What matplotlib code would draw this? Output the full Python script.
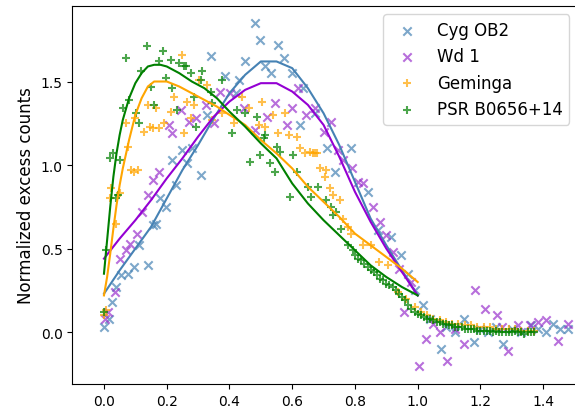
import matplotlib
matplotlib.use("Agg")
import matplotlib.pyplot as plt

# binned excess counts per source
cyg_x = [0.000, 0.016, 0.027, 0.039, 0.055, 0.076, 0.095, 0.113, 0.139, 0.155,
         0.166, 0.180, 0.197, 0.216, 0.229, 0.248, 0.266, 0.280, 0.308, 0.329,
         0.341, 0.387, 0.422, 0.429, 0.450, 0.480, 0.496, 0.512, 0.533, 0.556,
         0.574, 0.598, 0.625, 0.635, 0.672, 0.712, 0.737, 0.788, 0.841, 0.872,
         0.915, 0.946, 0.970, 0.990, 1.018, 1.040, 1.073, 1.090, 1.120, 1.147,
         1.178, 1.200, 1.225, 1.250, 1.273, 1.300, 1.330, 1.360, 1.385, 1.410,
         1.430, 1.455, 1.480]
cyg_y = [0.03, 0.08, 0.18, 0.27, 0.34, 0.35, 0.39, 0.52, 0.40, 0.64,
         0.65, 0.80, 0.75, 1.03, 0.88, 1.09, 1.01, 1.10, 0.94, 1.30,
         1.65, 1.53, 1.43, 1.51, 1.62, 1.85, 1.75, 1.59, 1.55, 1.72,
         1.64, 1.55, 1.24, 1.46, 1.31, 1.10, 0.96, 1.10, 0.84, 0.61,
         0.57, 0.46, 0.35, 0.25, 0.16, 0.08, -0.10, 0.03, 0.00, 0.08,
         -0.06, 0.02, 0.00, 0.03, -0.07, 0.02, 0.00, 0.04, 0.02, 0.00,
         0.05, 0.02, 0.02]

wd1_x = [0.002, 0.013, 0.034, 0.050, 0.069, 0.083, 0.105, 0.121, 0.139, 0.155,
         0.176, 0.208, 0.218, 0.245, 0.271, 0.292, 0.324, 0.350, 0.371, 0.403,
         0.445, 0.482, 0.519, 0.546, 0.582, 0.598, 0.619, 0.645, 0.672, 0.700,
         0.725, 0.746, 0.762, 0.790, 0.809, 0.825, 0.857, 0.880, 0.899, 0.920,
         0.940, 0.957, 0.980, 1.004, 1.025, 1.050, 1.070, 1.094, 1.120, 1.147,
         1.184, 1.215, 1.252, 1.270, 1.289, 1.320, 1.358, 1.384, 1.410, 1.447,
         1.479]
wd1_y = [0.08, 0.12, 0.24, 0.44, 0.49, 0.53, 0.59, 0.72, 0.82, 0.91,
         0.96, 1.24, 1.19, 1.33, 1.26, 1.28, 1.36, 1.25, 1.44, 1.43,
         1.34, 1.21, 1.29, 1.37, 1.24, 1.34, 1.46, 1.30, 1.34, 1.20,
         1.26, 1.09, 1.03, 0.98, 0.90, 0.89, 0.75, 0.66, 0.58, 0.48,
         0.38, 0.12, 0.30, -0.20, -0.04, 0.05, 0.00, -0.17, 0.02, -0.07,
         0.25, 0.14, 0.10, 0.03, -0.11, 0.04, 0.04, 0.06, 0.07, -0.05,
         0.05]

gem_x = [0.000, 0.008, 0.018, 0.023, 0.039, 0.050, 0.071, 0.076, 0.087, 0.097,
         0.100, 0.108, 0.129, 0.139, 0.147, 0.155, 0.166, 0.176, 0.192, 0.213,
         0.224, 0.250, 0.255, 0.266, 0.276, 0.287, 0.303, 0.329, 0.345, 0.377,
         0.414, 0.440, 0.461, 0.493, 0.503, 0.514, 0.540, 0.556, 0.577, 0.590,
         0.614, 0.625, 0.640, 0.656, 0.665, 0.672, 0.680, 0.688, 0.704, 0.709,
         0.720, 0.730, 0.751, 0.762, 0.778, 0.788, 0.825, 0.851, 0.878, 0.904,
         0.936, 0.962, 0.990, 1.010, 1.030, 1.050, 1.070, 1.090, 1.110, 1.130,
         1.150, 1.170, 1.190, 1.210, 1.230, 1.250, 1.270, 1.290, 1.310, 1.330,
         1.350, 1.370]
gem_y = [0.10, 0.13, 0.80, 0.86, 0.65, 0.83, 1.25, 1.11, 0.97, 0.96,
         1.28, 0.97, 1.20, 1.36, 1.23, 1.22, 1.34, 1.22, 1.25, 1.32,
         1.41, 1.66, 1.19, 1.38, 1.28, 1.36, 1.51, 1.48, 1.27, 1.31,
         1.25, 1.41, 1.34, 1.24, 1.38, 1.23, 1.30, 1.19, 1.31, 1.18,
         1.17, 1.10, 1.07, 1.08, 1.07, 1.07, 1.07, 0.98, 0.93, 0.97,
         0.86, 0.82, 0.79, 0.68, 0.63, 0.59, 0.52, 0.52, 0.42, 0.40,
         0.24, 0.20, 0.15, 0.12, 0.10, 0.08, 0.07, 0.06, 0.05, 0.05,
         0.04, 0.04, 0.03, 0.03, 0.03, 0.02, 0.02, 0.02, 0.02, 0.01,
         0.01, 0.01]

psr_x = [0.000, 0.008, 0.018, 0.028, 0.039, 0.046, 0.050, 0.062, 0.071, 0.081,
         0.103, 0.113, 0.118, 0.136, 0.150, 0.160, 0.176, 0.189, 0.197, 0.213,
         0.218, 0.234, 0.240, 0.255, 0.260, 0.277, 0.287, 0.292, 0.308, 0.313,
         0.340, 0.345, 0.377, 0.408, 0.424, 0.450, 0.466, 0.487, 0.498, 0.509,
         0.514, 0.530, 0.546, 0.551, 0.561, 0.593, 0.603, 0.614, 0.651, 0.661,
         0.683, 0.709, 0.725, 0.730, 0.741, 0.756, 0.778, 0.793,
         0.80, 0.81, 0.82, 0.83, 0.84, 0.85, 0.86, 0.87, 0.88, 0.89,
         0.90, 0.91, 0.92, 0.93, 0.94, 0.95, 0.96, 0.97, 0.98, 0.99,
         1.00, 1.01, 1.02, 1.03, 1.04, 1.05, 1.06, 1.07, 1.08, 1.09,
         1.10, 1.11, 1.12, 1.13, 1.14, 1.15, 1.16, 1.17, 1.18, 1.19,
         1.20, 1.21, 1.22, 1.23, 1.24, 1.25, 1.26, 1.27, 1.28, 1.29,
         1.30, 1.31, 1.32, 1.33, 1.34, 1.35, 1.36, 1.37]
psr_y = [0.12, 0.49, 1.04, 1.07, 0.80, 0.82, 1.03, 1.34, 1.64, 1.39,
         1.31, 1.25, 1.56, 1.71, 1.47, 1.36, 1.62, 1.68, 1.52, 1.63,
         1.46, 1.33, 1.61, 1.59, 1.59, 1.55, 1.41, 1.23, 1.51, 1.56,
         1.44, 1.37, 1.51, 1.19, 1.33, 1.31, 1.02, 1.29, 1.06, 1.16,
         1.18, 1.01, 0.96, 1.11, 1.08, 0.81, 1.06, 0.96, 0.87, 0.81,
         0.87, 0.79, 0.75, 0.70, 0.72, 0.62, 0.52, 0.49,
         0.46, 0.44, 0.43, 0.41, 0.39, 0.37, 0.36, 0.34, 0.32, 0.31,
         0.29, 0.28, 0.27, 0.25, 0.23, 0.21, 0.19, 0.16, 0.14, 0.12,
         0.11, 0.10, 0.09, 0.08, 0.08, 0.07, 0.06, 0.06, 0.05, 0.05,
         0.04, 0.04, 0.03, 0.03, 0.03, 0.02, 0.02, 0.02, 0.02, 0.01,
         0.01, 0.01, 0.01, 0.01, 0.00, 0.01, 0.00, 0.00, 0.00, 0.00,
         0.00, 0.01, 0.00, 0.00, -0.01, 0.00, 0.00, 0.00]

# fitted profiles, sampled on [0, 1]
fit_x = [0.00, 0.05, 0.10, 0.15, 0.20, 0.25, 0.30, 0.35, 0.40, 0.45, 0.50,
         0.55, 0.60, 0.65, 0.70, 0.75, 0.80, 0.85, 0.90, 0.95, 1.00]
cyg_fit = [0.23, 0.37, 0.50, 0.63, 0.80, 0.97, 1.12, 1.28, 1.43, 1.54, 1.62,
           1.62, 1.58, 1.46, 1.31, 1.12, 0.90, 0.68, 0.52, 0.37, 0.22]
wd1_fit = [0.44, 0.56, 0.67, 0.79, 0.92, 1.04, 1.17, 1.29, 1.38, 1.45, 1.49,
           1.49, 1.44, 1.36, 1.24, 1.05, 0.84, 0.66, 0.50, 0.36, 0.22]

fit_x_fine = [0.00, 0.01, 0.02, 0.03, 0.04, 0.05, 0.06, 0.08, 0.10, 0.12, 0.14,
              0.16, 0.18, 0.20, 0.24, 0.28, 0.32, 0.36, 0.40, 0.45, 0.50,
              0.55, 0.60, 0.65, 0.70, 0.75, 0.80, 0.85, 0.90, 0.95, 1.00]
gem_fit = [0.22, 0.33, 0.47, 0.62, 0.76, 0.88, 0.98, 1.15, 1.30, 1.40, 1.47,
           1.50, 1.50, 1.50, 1.47, 1.43, 1.39, 1.35, 1.30, 1.24, 1.15,
           1.07, 0.98, 0.87, 0.78, 0.69, 0.59, 0.52, 0.45, 0.38, 0.30]
psr_fit = [0.35, 0.55, 0.75, 0.93, 1.07, 1.18, 1.27, 1.40, 1.49, 1.55, 1.59,
           1.60, 1.60, 1.59, 1.55, 1.50, 1.46, 1.40, 1.32, 1.23, 1.13,
           1.04, 0.89, 0.77, 0.67, 0.58, 0.49, 0.40, 0.33, 0.27, 0.22]

fig = plt.figure(figsize=(5.75, 4.1), dpi=100)
ax = fig.add_axes([0.1257, 0.061, 0.879, 0.922])

ax.scatter(cyg_x, cyg_y, marker="x", color="steelblue", alpha=0.7, label="Cyg OB2")
ax.scatter(wd1_x, wd1_y, marker="x", color="darkorchid", alpha=0.7, label="Wd 1")
ax.scatter(gem_x, gem_y, marker="+", color="orange", alpha=0.7, label="Geminga")
ax.scatter(psr_x, psr_y, marker="+", color="green", alpha=0.7, label="PSR B0656+14")

ax.plot(fit_x, cyg_fit, color="steelblue")
ax.plot(fit_x, wd1_fit, color="darkviolet")
ax.plot(fit_x_fine, gem_fit, color="orange")
ax.plot(fit_x_fine, psr_fit, color="green")

ax.set_xlim(-0.101, 1.51)
ax.set_ylim(-0.31, 1.952)
ax.set_xticks([0.0, 0.2, 0.4, 0.6, 0.8, 1.0, 1.2, 1.4])
ax.set_yticks([0.0, 0.5, 1.0, 1.5])
ax.set_ylabel("Normalized excess counts", fontsize=12)
ax.legend(loc="upper right", fontsize=12)

fig.savefig("out.png", dpi=100)
